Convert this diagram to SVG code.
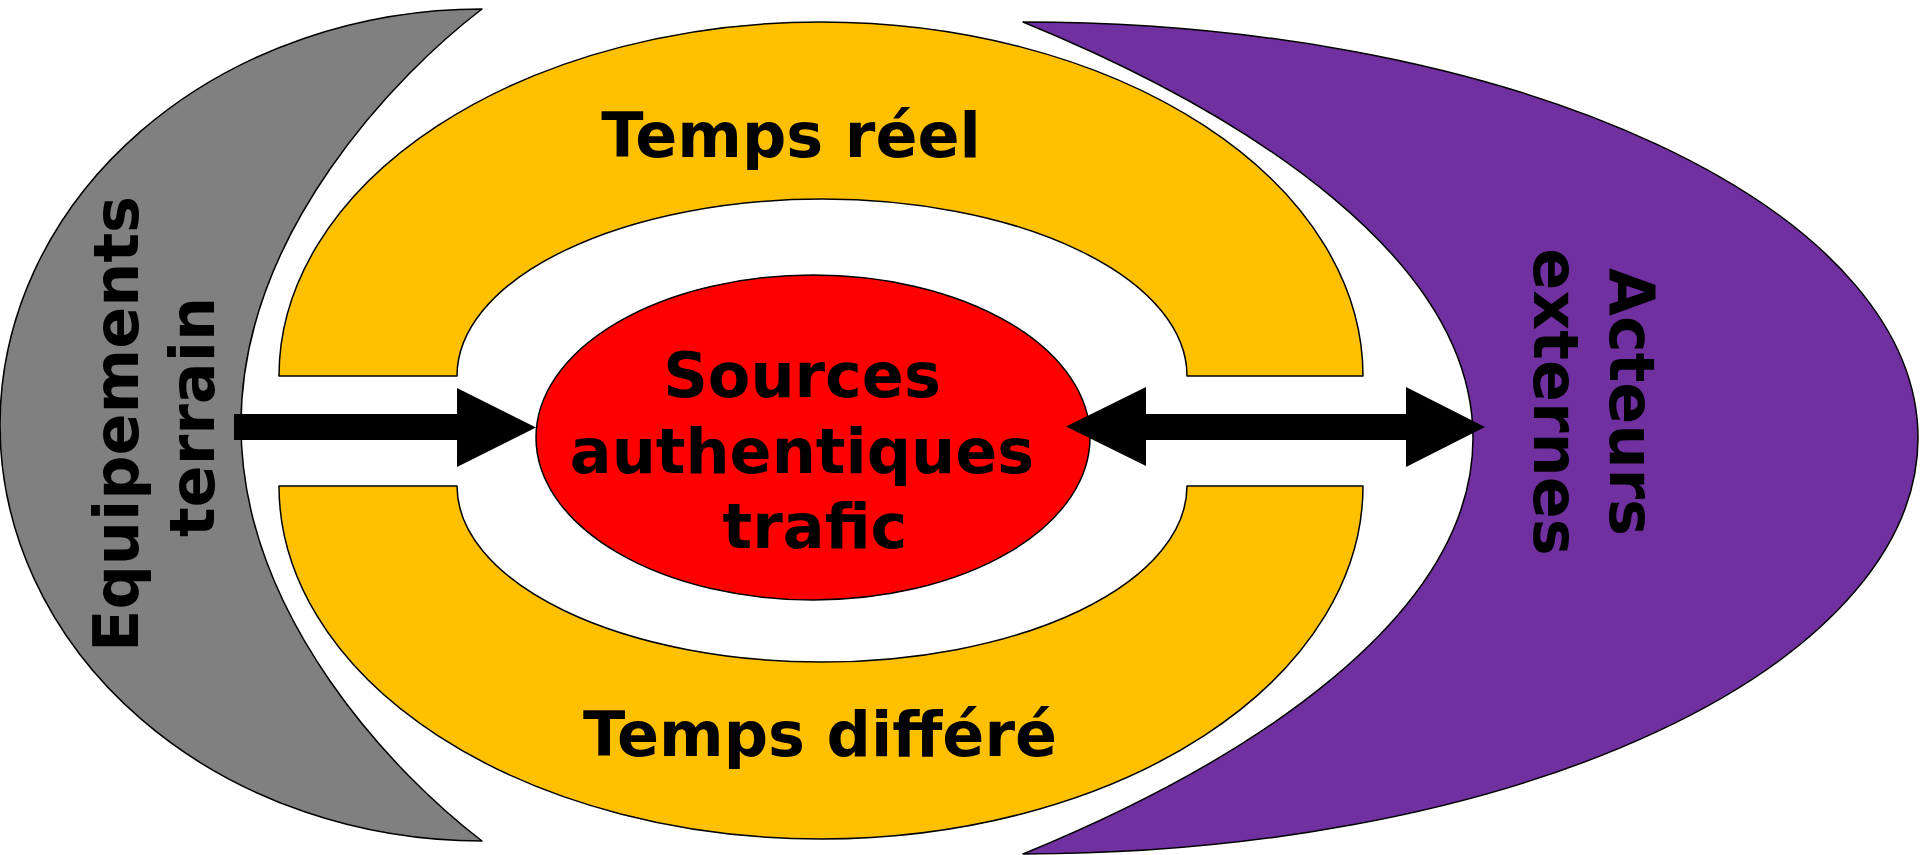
<svg xmlns="http://www.w3.org/2000/svg" width="1920" height="855" viewBox="0 0 1920 855">
<style>
.sh{stroke:#000;stroke-width:1.5;stroke-linejoin:round}
.t{font-family:"DejaVu Sans","Verdana",sans-serif;font-weight:bold;font-size:62px;fill:#000;text-anchor:middle}
.ar{fill:#000}
</style>
<rect width="1920" height="855" fill="#fff"/>
<g id="equipements">
<path class="sh" fill="#808080" d="M482,9 A482,416 0 0 0 482,841 C398,777 241,617 241,425 C241,233 398,73 482,9 Z"/>
<text class="t" transform="translate(138,424) rotate(-90)">Equipements</text>
<text class="t" transform="translate(214,417) rotate(-90)">terrain</text>
</g>
<g id="acteurs">
<path class="sh" fill="#7030A0" d="M1023,22 A895,416 0 0 1 1023,854 C1250,761 1473,616 1473,438 C1473,260 1250,115 1023,22 Z"/>
<text class="t" transform="translate(1610,402) rotate(90)">Acteurs</text>
<text class="t" transform="translate(1534,402) rotate(90)">externes</text>
</g>
<g id="temps-reel">
<path class="sh" fill="#FFC000" d="M279,376 A542,354 0 0 1 1363,376 L1187,376 A365,177 0 0 0 457,376 Z"/>
<text class="t" x="791" y="157">Temps réel</text>
</g>
<g id="temps-differe">
<path class="sh" fill="#FFC000" d="M279,486 A542,353 0 0 0 1363,486 L1187,486 A365,176 0 0 1 457,486 Z"/>
<text class="t" x="820" y="756">Temps différé</text>
</g>
<g id="sources">
<ellipse class="sh" fill="#FF0000" cx="813" cy="437.5" rx="277" ry="162.5"/>
<text class="t" x="802" y="397">Sources</text>
<text class="t" x="802" y="473">authentiques</text>
<text class="t" x="815" y="548">trafic</text>
</g>
<g id="connectors">
<path class="ar" d="M234,414 L457,414 L457,388 L536,427.5 L457,467 L457,440 L234,440 Z"/>
<path class="ar" d="M1066,426.5 L1146,387 L1146,414 L1406,414 L1406,387 L1485,427 L1406,467 L1406,440 L1146,440 L1146,466 Z"/>
</g>
</svg>
